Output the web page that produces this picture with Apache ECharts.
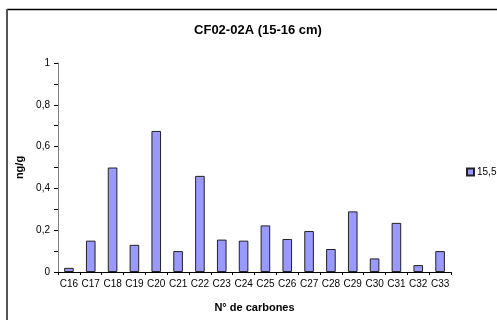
<!DOCTYPE html>
<html>
<head>
<meta charset="utf-8">
<script src="https://cdn.jsdelivr.net/npm/echarts@6/dist/echarts.min.js"></script>
<style>
  html, body { margin: 0; padding: 0; background: #fff; }
  #chart { width: 497px; height: 320px; }
</style>
</head>
<body>
<div id="chart"></div>
<script>
// Carbon-chain categories along the x axis
const categories = ['C16','C17','C18','C19','C20','C21','C22','C23','C24','C25','C26','C27','C28','C29','C30','C31','C32','C33'];
// Concentrations (ng/g) for the 15-16 cm sample
const seriesName = '15,5';
const values = [0.02, 0.15, 0.50, 0.13, 0.675, 0.10, 0.46, 0.155, 0.15, 0.223, 0.158, 0.196, 0.11, 0.29, 0.065, 0.235, 0.033, 0.10];
// Value axis range
const yMin = 0, yMax = 1, yStep = 0.2;

const chart = echarts.init(document.getElementById('chart'), null, { renderer: 'canvas' });
const font = 'Arial, "Liberation Sans", sans-serif';

chart.setOption({
  animation: false,
  backgroundColor: '#fff',
  title: {
    text: 'CF02-02A (15-16 cm)',
    left: 253, top: 19, textAlign: 'center',
    textStyle: { fontFamily: font, fontSize: 13, fontWeight: 'bold', color: '#000' }
  },
  legend: {
    left: 461, top: 162,
    itemWidth: 7, itemHeight: 7, itemGap: 4,
    icon: 'rect',
    textStyle: { fontFamily: font, fontSize: 10, color: '#000', padding: [0, 0, 0, -2] },
    data: [seriesName]
  },
  grid: { left: 58, right: 46, top: 63, bottom: 48, containLabel: false, outerBoundsMode: 'none' },
  xAxis: {
    type: 'category',
    data: categories,
    name: 'N° de carbones',
    nameLocation: 'middle', nameGap: 30,
    nameTextStyle: { fontFamily: font, fontSize: 11, fontWeight: 'bold', color: '#000' },
    axisLine: { lineStyle: { color: '#000', width: 1 } },
    axisTick: { show: true, alignWithLabel: false, length: 3, lineStyle: { color: '#000' } },
    axisLabel: { fontFamily: font, fontSize: 10, color: '#000', margin: 7, interval: 0 }
  },
  yAxis: {
    type: 'value',
    min: yMin, max: yMax, interval: yStep,
    name: 'ng/g',
    nameLocation: 'middle', nameGap: 29, nameRotate: 90,
    nameTextStyle: { fontFamily: font, fontSize: 11, fontWeight: 'bold', color: '#000' },
    axisLine: { show: true, lineStyle: { color: '#808080', width: 1 } },
    axisTick: { show: true, inside: false, length: 4, lineStyle: { color: '#000' } },
    minorTick: { show: true, splitNumber: 2, length: 4, lineStyle: { color: '#000' } },
    splitLine: { show: false },
    axisLabel: {
      fontFamily: font, fontSize: 10, color: '#000', margin: 8,
      formatter: v => String(+v.toFixed(1)).replace('.', ',')
    }
  },
  series: [{
    name: seriesName,
    type: 'bar',
    data: values,
    barWidth: '44%',
    itemStyle: { color: '#9999ff', borderColor: '#222', borderWidth: 1 }
  }],
  graphic: [
    // outer chart frame (top and left edges visible in the window)
    { type: 'line', shape: { x1: 7, y1: 9.5, x2: 520, y2: 9.5 }, style: { stroke: '#000', lineWidth: 1.5 } },
    { type: 'line', shape: { x1: 7, y1: 9, x2: 7, y2: 340 }, style: { stroke: '#555', lineWidth: 2 } }
  ]
});
</script>
</body>
</html>
